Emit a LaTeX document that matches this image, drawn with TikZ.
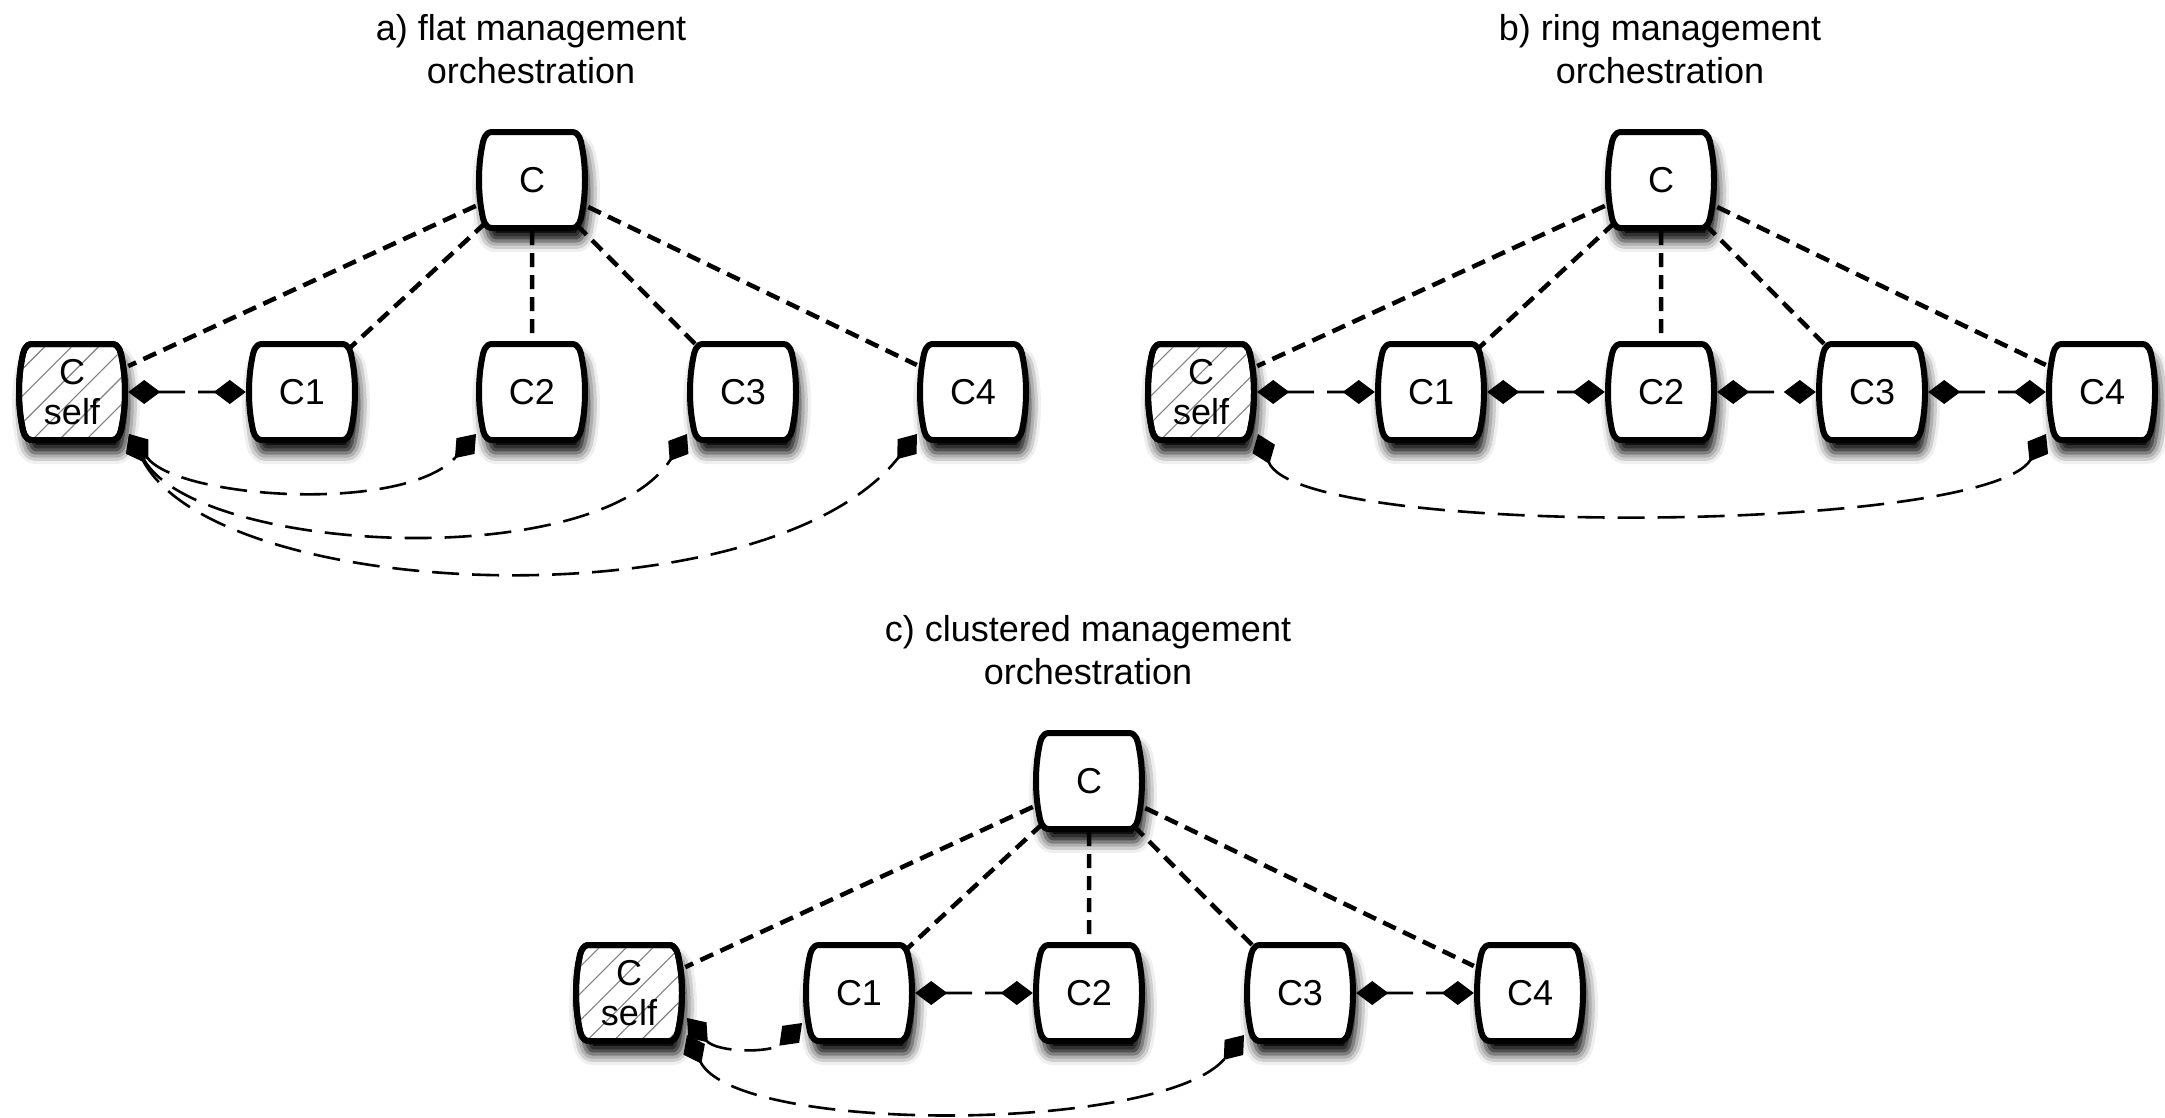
\documentclass[tikz,border=0pt]{standalone}
\usepackage{fontspec}
\setmainfont{Liberation Sans}
\usetikzlibrary{arrows.meta,calc,patterns.meta,shadows.blur,shapes.misc}
\pgfdeclarelayer{bg}
\pgfdeclarelayer{boxes}
\pgfsetlayers{bg,boxes,main}
\definecolor{bggray}{RGB}{228,228,228}
\newcommand\brlpath{(-40,48) -- (40,48) .. controls (47,48) and (49,40) .. (50,33) .. controls (54,13) and (54,-13) .. (50,-33) .. controls (49,-40) and (47,-48) .. (40,-48) -- (-40,-48) .. controls (-47,-48) and (-49,-40) .. (-50,-33) .. controls (-54,-13) and (-54,13) .. (-50,33) .. controls (-49,40) and (-47,48) .. (-40,48) -- cycle}
\begin{document}
\begin{tikzpicture}[x=1pt,y=1pt,
  box/.style={chamfered rectangle, chamfered rectangle xsep=9pt, chamfered rectangle ysep=9pt,
    minimum width=112pt, minimum height=102pt, inner sep=0pt,
    font=\fontsize{36}{40}\selectfont, align=center},
  ttl/.style={anchor=base, inner sep=0pt, font=\fontsize{36}{43}\selectfont},
  shd/.style={blur shadow={shadow xshift=4pt, shadow yshift=-13pt, shadow blur radius=11pt, shadow opacity=100}},
  brl/.style={fill=white, draw=black, line width=6pt, line join=round, shd},
  cedge/.style={draw=black, line width=4.5pt, dash pattern=on 14pt off 8pt},
  ring/.style={draw=black, line width=2.6pt, dash pattern=on 27pt off 13pt,
    arrows={Diamond[length=32pt,width=24pt,fill=black,color=black]-Diamond[length=32pt,width=24pt,fill=black,color=black]}},
  curvelink/.style={draw=black, line width=2.6pt, dash pattern=on 27pt off 13pt,
    arrows={Diamond[length=32pt,width=24pt,fill=black,color=black]-Diamond[length=32pt,width=24pt,fill=black,color=black]}}
]
\begin{pgfonlayer}{bg}
\fill[bggray] (0,0) rectangle (2165,-1117);
\end{pgfonlayer}
\useasboundingbox (0,0) rectangle (2165,-1117);

% titles
\node[ttl] (ta1) at (531,-40) {a) flat management};
\node[ttl] (ta2) at (531,-83) {orchestration};
\node[ttl] (tb1) at (1660,-40) {b) ring management};
\node[ttl] (tb2) at (1660,-83) {orchestration};
\node[ttl] (tc1) at (1088,-641) {c) clustered management};
\node[ttl] (tc2) at (1088,-684) {orchestration};

% panel a
\node[box] (a-C) at (532,-180) {C};
\node[box] (a-S) at (72,-392) {C\\self};
\node[box] (a-1) at (302,-392) {C1};
\node[box] (a-2) at (532,-392) {C2};
\node[box] (a-3) at (743,-392) {C3};
\node[box] (a-4) at (973,-392) {C4};
% panel b
\node[box] (b-C) at (1661,-180) {C};
\node[box] (b-S) at (1201,-392) {C\\self};
\node[box] (b-1) at (1431,-392) {C1};
\node[box] (b-2) at (1661,-392) {C2};
\node[box] (b-3) at (1872,-392) {C3};
\node[box] (b-4) at (2102,-392) {C4};
% panel c
\node[box] (c-C) at (1089,-781) {C};
\node[box] (c-S) at (629,-993) {C\\self};
\node[box] (c-1) at (859,-993) {C1};
\node[box] (c-2) at (1089,-993) {C2};
\node[box] (c-3) at (1300,-993) {C3};
\node[box] (c-4) at (1530,-993) {C4};

\begin{pgfonlayer}{boxes}
% warm-up shadow, placed outside the page
\path[fill=white, shd] (-600,600) rectangle (-580,580);
\foreach \n in {a-C,a-1,a-2,a-3,a-4,b-C,b-1,b-2,b-3,b-4,c-C,c-1,c-2,c-3,c-4}
  \path[brl, shift={(\n.center)}] \brlpath;
\foreach \n in {a-S,b-S,c-S}{
  \path[brl, shift={(\n.center)}] \brlpath;
  \fill[pattern={Lines[angle=45,distance=19pt,line width=1.1pt]}, pattern color=gray, shift={(\n.center)}] \brlpath;
  \draw[black, line width=6pt, line join=round, shift={(\n.center)}] \brlpath;
}
\end{pgfonlayer}

% management edges
\foreach \p in {a,b,c}
  \foreach \k in {S,1,2,3,4}
    \draw[cedge] (\p-C) -- (\p-\k);

% ring links
\draw[ring] (a-S) -- (a-1);
\draw[ring] (b-S) -- (b-1);
\draw[ring] (b-1) -- (b-2);
\draw[ring] (b-2) -- (b-3);
\draw[ring] (b-3) -- (b-4);
\draw[ring] (c-1) -- (c-2);
\draw[ring] (c-3) -- (c-4);

% curved links
\coordinate (aSo) at ($(a-S.center)+(57,-42)$);
\coordinate (a2i) at ($(a-2.center)+(-56,-42)$);
\coordinate (a3i) at ($(a-3.center)+(-56,-42)$);
\coordinate (a4i) at ($(a-4.center)+(-56,-42)$);
\coordinate (bSo) at ($(b-S.center)+(57,-42)$);
\coordinate (b4i) at ($(b-4.center)+(-56,-42)$);
\coordinate (cSo1) at ($(c-S.center)+(58,-25)$);
\coordinate (cSo2) at ($(c-S.center)+(58,-42)$);
\coordinate (c1i) at ($(c-1.center)+(-57,-30)$);
\coordinate (c3i) at ($(c-3.center)+(-56,-42)$);

\draw[curvelink] (aSo) .. controls ($(aSo)+(50,-65)$) and ($(a2i)+(-70,-80)$) .. (a2i);
\draw[curvelink] (aSo) .. controls ($(aSo)+(70,-120)$) and ($(a3i)+(-90,-140)$) .. (a3i);
\draw[curvelink] (aSo) .. controls ($(aSo)+(90,-170)$) and ($(a4i)+(-150,-190)$) .. (a4i);
\draw[curvelink] (bSo) .. controls ($(bSo)+(40,-105)$) and ($(b4i)+(-60,-100)$) .. (b4i);
\draw[curvelink] (cSo1) .. controls ($(cSo1)+(30,-35)$) and ($(c1i)+(-30,-30)$) .. (c1i);
\draw[curvelink] (cSo2) .. controls ($(cSo2)+(50,-100)$) and ($(c3i)+(-80,-98)$) .. (c3i);
\end{tikzpicture}
\end{document}
